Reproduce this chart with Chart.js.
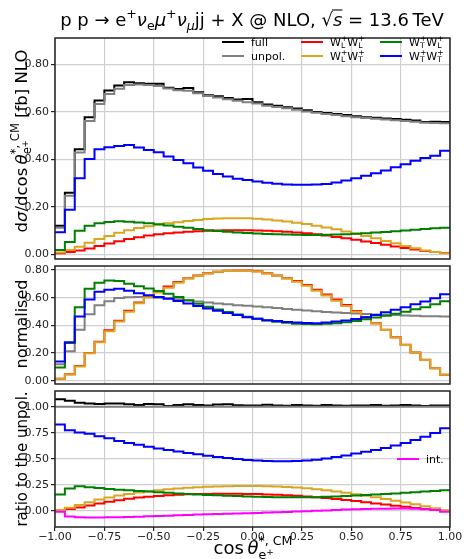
<!DOCTYPE html>
<html>
<head>
<meta charset="utf-8">
<script src="https://cdn.jsdelivr.net/npm/chart.js@4"></script>
<style>
  html, body { margin: 0; padding: 0; background: #fff; }
  #wrap { position: relative; width: 464px; height: 559px; }
  canvas { position: absolute; left: 0; }
</style>
</head>
<body>
<div id="wrap">
  <canvas id="panelXsec" width="464" height="262" style="top:0px"></canvas>
  <canvas id="panelNorm" width="464" height="125" style="top:262px"></canvas>
  <canvas id="panelRatio" width="464" height="172" style="top:387px"></canvas>
</div>
<script>
// bin edges of the cos(theta) histogram (40 bins)
const binEdges = [-1.00, -0.95, -0.90, -0.85, -0.80, -0.75, -0.70, -0.65, -0.60, -0.55,
  -0.50, -0.45, -0.40, -0.35, -0.30, -0.25, -0.20, -0.15, -0.10, -0.05,
  0.00, 0.05, 0.10, 0.15, 0.20, 0.25, 0.30, 0.35, 0.40, 0.45,
  0.50, 0.55, 0.60, 0.65, 0.70, 0.75, 0.80, 0.85, 0.90, 0.95, 1.00];

const xTicks = [-1.00, -0.75, -0.50, -0.25, 0.00, 0.25, 0.50, 0.75, 1.00];
const yTicksXsec = [0.00, 0.20, 0.40, 0.60, 0.80];
const yTicksNorm = [0.00, 0.20, 0.40, 0.60, 0.80];
const yTicksRatio = [0.00, 0.25, 0.50, 0.75, 1.00];

// dsigma/dcos [fb]
const fullXsec = [0.120, 0.259, 0.442, 0.577, 0.647, 0.689, 0.710, 0.724, 0.720, 0.718,
  0.718, 0.701, 0.695, 0.700, 0.682, 0.669, 0.665, 0.657, 0.651, 0.653,
  0.640, 0.630, 0.625, 0.619, 0.613, 0.606, 0.599, 0.594, 0.590, 0.586,
  0.581, 0.577, 0.574, 0.571, 0.569, 0.566, 0.563, 0.557, 0.558, 0.557];
const unpolXsec = [0.112, 0.246, 0.428, 0.561, 0.632, 0.674, 0.696, 0.712, 0.714, 0.712,
  0.708, 0.697, 0.690, 0.688, 0.678, 0.666, 0.660, 0.652, 0.646, 0.640,
  0.634, 0.625, 0.620, 0.614, 0.608, 0.601, 0.595, 0.590, 0.586, 0.581,
  0.577, 0.573, 0.570, 0.567, 0.564, 0.561, 0.558, 0.553, 0.552, 0.551];
const llXsec = [0.004, 0.009, 0.016, 0.024, 0.035, 0.045, 0.055, 0.064, 0.072, 0.079,
  0.084, 0.088, 0.092, 0.095, 0.097, 0.099, 0.100, 0.101, 0.101, 0.101,
  0.100, 0.099, 0.097, 0.095, 0.092, 0.088, 0.084, 0.079, 0.073, 0.067,
  0.061, 0.054, 0.047, 0.040, 0.033, 0.026, 0.020, 0.014, 0.009, 0.005];
const ltXsec = [0.007, 0.018, 0.032, 0.048, 0.064, 0.077, 0.090, 0.101, 0.110, 0.118,
  0.124, 0.130, 0.135, 0.140, 0.144, 0.148, 0.150, 0.152, 0.152, 0.151,
  0.149, 0.146, 0.142, 0.138, 0.133, 0.127, 0.120, 0.113, 0.105, 0.096,
  0.087, 0.077, 0.067, 0.056, 0.046, 0.035, 0.025, 0.016, 0.009, 0.004];
const tlXsec = [0.018, 0.052, 0.099, 0.120, 0.130, 0.136, 0.139, 0.137, 0.134, 0.130,
  0.126, 0.121, 0.116, 0.111, 0.106, 0.101, 0.098, 0.095, 0.092, 0.089,
  0.087, 0.085, 0.084, 0.083, 0.082, 0.081, 0.081, 0.082, 0.083, 0.084,
  0.086, 0.088, 0.091, 0.094, 0.097, 0.100, 0.103, 0.106, 0.109, 0.112];
const ttXsec = [0.093, 0.187, 0.320, 0.401, 0.442, 0.450, 0.456, 0.460, 0.449, 0.439,
  0.429, 0.411, 0.397, 0.383, 0.365, 0.351, 0.338, 0.327, 0.318, 0.312,
  0.306, 0.301, 0.297, 0.294, 0.292, 0.292, 0.293, 0.296, 0.302, 0.310,
  0.320, 0.330, 0.341, 0.352, 0.366, 0.379, 0.393, 0.405, 0.414, 0.436];

// shapes normalised to unit area
const unpolNorm = [0.118, 0.213, 0.368, 0.481, 0.545, 0.575, 0.597, 0.603, 0.605, 0.604,
  0.600, 0.595, 0.589, 0.580, 0.572, 0.565, 0.558, 0.552, 0.546, 0.542,
  0.536, 0.530, 0.525, 0.519, 0.513, 0.507, 0.502, 0.497, 0.493, 0.489,
  0.485, 0.482, 0.479, 0.476, 0.474, 0.471, 0.469, 0.466, 0.465, 0.464];
const llNorm = [0.014, 0.047, 0.106, 0.200, 0.282, 0.365, 0.434, 0.505, 0.566, 0.610,
  0.645, 0.680, 0.713, 0.741, 0.760, 0.776, 0.788, 0.794, 0.797, 0.796,
  0.791, 0.777, 0.761, 0.741, 0.720, 0.692, 0.657, 0.623, 0.586, 0.547,
  0.503, 0.460, 0.416, 0.369, 0.314, 0.259, 0.204, 0.151, 0.090, 0.042];
const ltNorm = [0.014, 0.045, 0.103, 0.198, 0.278, 0.357, 0.427, 0.498, 0.560, 0.603,
  0.638, 0.672, 0.708, 0.738, 0.758, 0.775, 0.787, 0.793, 0.796, 0.795,
  0.790, 0.775, 0.759, 0.738, 0.716, 0.686, 0.650, 0.615, 0.578, 0.540,
  0.498, 0.457, 0.414, 0.367, 0.312, 0.258, 0.203, 0.150, 0.090, 0.042];
const tlNorm = [0.095, 0.272, 0.530, 0.665, 0.708, 0.725, 0.720, 0.700, 0.682, 0.666,
  0.648, 0.628, 0.605, 0.582, 0.557, 0.535, 0.514, 0.496, 0.479, 0.462,
  0.447, 0.435, 0.426, 0.418, 0.412, 0.409, 0.408, 0.411, 0.415, 0.423,
  0.432, 0.444, 0.457, 0.469, 0.483, 0.499, 0.516, 0.531, 0.552, 0.575];
const ttNorm = [0.138, 0.278, 0.464, 0.586, 0.642, 0.657, 0.665, 0.650, 0.632, 0.618,
  0.605, 0.592, 0.576, 0.558, 0.540, 0.522, 0.505, 0.489, 0.474, 0.459,
  0.447, 0.437, 0.431, 0.425, 0.420, 0.417, 0.416, 0.420, 0.427, 0.435,
  0.445, 0.459, 0.475, 0.494, 0.512, 0.531, 0.552, 0.572, 0.596, 0.625];

// ratios to the unpolarised prediction
const fullRatio = [1.070, 1.057, 1.038, 1.031, 1.025, 1.030, 1.030, 1.022, 1.015, 1.025,
  1.024, 1.006, 1.015, 1.022, 1.016, 1.010, 1.020, 1.022, 1.014, 1.010,
  1.012, 1.018, 1.010, 1.008, 1.016, 1.012, 1.008, 1.015, 1.010, 1.008,
  1.012, 1.010, 1.016, 1.008, 1.012, 1.015, 1.010, 1.006, 1.012, 1.010];
const unpolRatio = [1, 1, 1, 1, 1, 1, 1, 1, 1, 1,
  1, 1, 1, 1, 1, 1, 1, 1, 1, 1,
  1, 1, 1, 1, 1, 1, 1, 1, 1, 1,
  1, 1, 1, 1, 1, 1, 1, 1, 1, 1];
const llRatio = [0.002, 0.019, 0.035, 0.054, 0.073, 0.089, 0.104, 0.118, 0.129, 0.137,
  0.145, 0.151, 0.156, 0.160, 0.162, 0.164, 0.165, 0.165, 0.165, 0.164,
  0.162, 0.159, 0.156, 0.152, 0.146, 0.139, 0.132, 0.124, 0.115, 0.105,
  0.095, 0.084, 0.073, 0.062, 0.051, 0.040, 0.030, 0.020, 0.011, 0.003];
const ltRatio = [0.010, 0.032, 0.057, 0.083, 0.110, 0.130, 0.148, 0.163, 0.177, 0.190,
  0.200, 0.209, 0.216, 0.222, 0.228, 0.232, 0.236, 0.238, 0.240, 0.241,
  0.240, 0.238, 0.235, 0.231, 0.225, 0.218, 0.209, 0.199, 0.187, 0.174,
  0.160, 0.146, 0.131, 0.115, 0.099, 0.081, 0.064, 0.045, 0.026, 0.008];
const tlRatio = [0.158, 0.215, 0.238, 0.228, 0.220, 0.212, 0.205, 0.198, 0.192, 0.186,
  0.180, 0.175, 0.169, 0.164, 0.158, 0.154, 0.150, 0.147, 0.143, 0.139,
  0.136, 0.134, 0.133, 0.132, 0.131, 0.132, 0.133, 0.136, 0.139, 0.143,
  0.148, 0.153, 0.158, 0.163, 0.168, 0.175, 0.181, 0.186, 0.192, 0.198];
const ttRatio = [0.830, 0.775, 0.752, 0.740, 0.716, 0.697, 0.672, 0.652, 0.634, 0.617,
  0.600, 0.585, 0.571, 0.557, 0.543, 0.530, 0.518, 0.507, 0.498, 0.490,
  0.484, 0.480, 0.478, 0.478, 0.479, 0.484, 0.492, 0.503, 0.517, 0.533,
  0.550, 0.567, 0.585, 0.605, 0.627, 0.652, 0.680, 0.712, 0.748, 0.792];
const intRatio = [-0.008, -0.052, -0.060, -0.061, -0.061, -0.060, -0.059, -0.058, -0.054, -0.050,
  -0.048, -0.045, -0.040, -0.037, -0.034, -0.031, -0.028, -0.025, -0.023, -0.021,
  -0.018, -0.015, -0.012, -0.009, -0.005, -0.001, 0.002, 0.006, 0.011, 0.015,
  0.018, 0.019, 0.021, 0.022, 0.024, 0.024, 0.021, 0.017, 0.009, -0.006];

const C = { full: '#000000', unpol: '#808080', ll: '#ff0000', lt: '#daa520', tl: '#008000', tt: '#0000ff', int: '#ff00ff' };
const GRID = '#cfcfcf';
const FONT = '"DejaVu Sans", sans-serif';

// ---------- small text layout helper (sub/superscripts) ----------
function fnt(px, it) { return (it ? 'italic ' : '') + px + 'px ' + FONT; }

function runText(ctx, parts, x, y, size, draw) {
  let adv = 0;
  for (const p of parts) {
    if (p.stack) {
      let w = 0;
      for (const row of p.stack) w = Math.max(w, runText(ctx, row, x + adv, y, size, draw));
      adv += w;
      continue;
    }
    const px = size * (p.s || 1);
    ctx.font = fnt(px, p.it);
    const w = ctx.measureText(p.t).width;
    const yy = y - (p.dy || 0) * size;
    if (draw) {
      ctx.fillText(p.t, x + adv, yy);
      if (p.over) ctx.fillRect(x + adv - 1, yy - px * 0.92, w + 1, Math.max(1, px * 0.06));
    }
    adv += w;
  }
  return adv;
}

function richText(ctx, parts, x, y, size, align) {
  const w = runText(ctx, parts, 0, 0, size, false);
  const x0 = align === 'center' ? x - w / 2 : (align === 'right' ? x - w : x);
  ctx.textAlign = 'left';
  ctx.textBaseline = 'alphabetic';
  runText(ctx, parts, x0, y, size, true);
}

const up = t => [{ t: '+', s: 0.7, dy: 0.45 }];
const W = (a, b) => [
  { t: 'W' }, { stack: [up(), [{ t: a, s: 0.7, dy: -0.22 }]] },
  { t: 'W' }, { stack: [up(), [{ t: b, s: 0.7, dy: -0.22 }]] }
];

const titleParts = [
  { t: 'p p \u2192 e' }, { t: '+', s: 0.7, dy: 0.42 },
  { t: '\u03bd', it: true }, { t: 'e', s: 0.7, dy: -0.2 },
  { t: '\u03bc', it: true }, { t: '+', s: 0.7, dy: 0.42 },
  { t: '\u03bd', it: true }, { t: '\u03bc', it: true, s: 0.7, dy: -0.2 },
  { t: 'jj + X @ NLO, ' }, { t: '\u221a' }, { t: 's', it: true, over: true },
  { t: ' = 13.6\u2009TeV' }
];
const thetaScripts = { stack: [
  [{ t: '*, CM', s: 0.7, dy: 0.5 }],
  [{ t: 'e', s: 0.7, dy: -0.25 }, { t: '+', s: 0.5, dy: -0.08 }]
] };
const yTitleXsec = [{ t: 'd' }, { t: '\u03c3', it: true }, { t: '/dcos\u2009' }, { t: '\u03b8', it: true }, thetaScripts, { t: ' [fb] NLO' }];
const xTitle = [{ t: 'cos\u2009' }, { t: '\u03b8', it: true }, thetaScripts];

// ---------- chart helpers ----------
function steps(vals) {
  return binEdges.map((x, i) => ({ x: x, y: vals[Math.min(i, vals.length - 1)] }));
}

// each bin value is held from its lower edge to the next edge
function hist(vals, color) {
  return { data: steps(vals), borderColor: color, borderWidth: 2, stepped: 'before', pointRadius: 0, fill: false };
}

function fmt(v) { return v.toFixed(2).replace('-', '\u2212'); }

function drawFrame(c) {
  const a = c.chartArea, ctx = c.ctx;
  ctx.save();
  ctx.strokeStyle = '#222';
  ctx.lineWidth = 1.5;
  ctx.strokeRect(a.left, a.top, a.right - a.left, a.bottom - a.top);
  ctx.restore();
}

function legendEntry(ctx, x, y, color, label) {
  ctx.save();
  ctx.strokeStyle = color;
  ctx.lineWidth = 2;
  ctx.beginPath();
  ctx.moveTo(x, y);
  ctx.lineTo(x + 22, y);
  ctx.stroke();
  ctx.fillStyle = '#000';
  richText(ctx, label, x + 29, y + 4, 11, 'left');
  ctx.restore();
}

function rotatedTitle(ctx, parts, x, y, size) {
  ctx.save();
  ctx.fillStyle = '#000';
  ctx.translate(x, y);
  ctx.rotate(-Math.PI / 2);
  richText(ctx, parts, 0, 0, size, 'center');
  ctx.restore();
}

function panel(id, datasets, yMin, yMax, yTicks, pad, xLabels, decorate) {
  return new Chart(document.getElementById(id), {
    type: 'line',
    data: { datasets: datasets },
    options: {
      responsive: false,
      animation: false,
      events: [],
      layout: { padding: pad },
      plugins: { legend: { display: false }, tooltip: { enabled: false } },
      scales: {
        x: {
          type: 'linear', min: -1, max: 1,
          afterBuildTicks: s => { s.ticks = xTicks.map(v => ({ value: v })); },
          afterFit: s => { s.paddingLeft = 0; s.paddingRight = 0; s.height = xLabels ? 32 : 0; },
          border: { display: false },
          grid: { color: GRID, lineWidth: 1.2, drawTicks: xLabels, tickLength: 4, tickColor: '#222' },
          ticks: { display: xLabels, autoSkip: false, maxRotation: 0, padding: 0, color: '#222',
            font: { family: 'DejaVu Sans', size: 11 }, callback: v => fmt(v) }
        },
        y: {
          min: yMin, max: yMax,
          afterBuildTicks: s => { s.ticks = yTicks.map(v => ({ value: v })); },
          afterFit: s => { s.width = 55; s.paddingTop = 0; s.paddingBottom = 0; },
          border: { display: false },
          grid: { color: GRID, lineWidth: 1.2, tickLength: 4, tickColor: '#222' },
          ticks: { padding: 2, color: '#222', font: { family: 'DejaVu Sans', size: 11 }, callback: v => fmt(v) }
        }
      }
    },
    plugins: [{ id: 'decor_' + id, afterDraw: c => { drawFrame(c); decorate(c); } }]
  });
}

// top: differential cross sections
panel('panelXsec', [
  hist(ttXsec, C.tt), hist(tlXsec, C.tl), hist(ltXsec, C.lt), hist(llXsec, C.ll),
  hist(unpolXsec, C.unpol), hist(fullXsec, C.full)
], -0.02, 0.91, yTicksXsec, { top: 38, right: 14, bottom: 3, left: 0 }, false, c => {
  const ctx = c.ctx;
  ctx.save();
  ctx.fillStyle = '#000';
  richText(ctx, titleParts, 252, 26, 18, 'center');
  ctx.restore();
  rotatedTitle(ctx, yTitleXsec, 27, 141, 16.5);
  legendEntry(ctx, 222, 42, C.full, [{ t: 'full' }]);
  legendEntry(ctx, 222, 56, C.unpol, [{ t: 'unpol.' }]);
  legendEntry(ctx, 301, 42, C.ll, W('L', 'L'));
  legendEntry(ctx, 301, 56, C.lt, W('L', 'T'));
  legendEntry(ctx, 380, 42, C.tl, W('T', 'L'));
  legendEntry(ctx, 380, 56, C.tt, W('T', 'T'));
});

// middle: normalised shapes
panel('panelNorm', [
  hist(ttNorm, C.tt), hist(tlNorm, C.tl), hist(ltNorm, C.lt), hist(llNorm, C.ll),
  hist(unpolNorm, C.unpol)
], -0.024, 0.829, yTicksNorm, { top: 4, right: 14, bottom: 3, left: 0 }, false, c => {
  rotatedTitle(c.ctx, [{ t: 'normalised' }], 27, 62, 16);
});

// bottom: ratios to unpolarised
panel('panelRatio', [
  hist(intRatio, C.int), hist(ttRatio, C.tt), hist(tlRatio, C.tl), hist(ltRatio, C.lt),
  hist(llRatio, C.ll), hist(unpolRatio, C.unpol), hist(fullRatio, C.full)
], -0.153, 1.15, yTicksRatio, { top: 4, right: 14, bottom: 0, left: 0 }, true, c => {
  const ctx = c.ctx;
  rotatedTitle(ctx, [{ t: 'ratio to the unpol.' }], 27, 72, 15);
  ctx.save();
  ctx.fillStyle = '#000';
  richText(ctx, xTitle, 253, 167, 18, 'center');
  ctx.restore();
  legendEntry(ctx, 397, 72, C.int, [{ t: 'int.' }]);
});
</script>
</body>
</html>
